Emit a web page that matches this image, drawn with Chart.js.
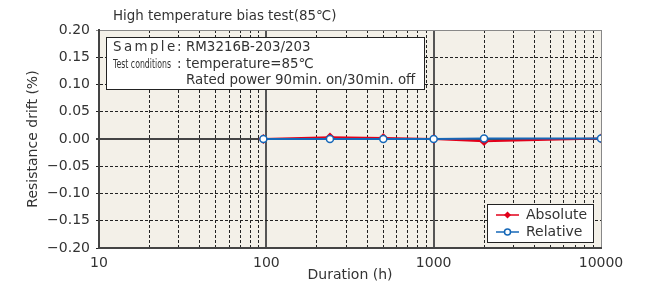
<!DOCTYPE html>
<html>
<head>
<meta charset="utf-8">
<script src="https://cdn.jsdelivr.net/npm/chart.js@4"></script>
<style>
html, body { margin: 0; background: #fff; }
#wrap { width: 649px; height: 283px; }
</style>
</head>
<body>
<div id="wrap"><canvas id="c"></canvas></div>
<script>
const hours = [96, 240, 500, 1000, 2000, 10000];
const absolute = [0.000, 0.003, 0.002, 0.000, -0.004, 0.001];
const relative = [0.000, 0.000, 0.000, 0.000, 0.001, 0.001];
const xTicks = [10, 20, 30, 40, 50, 60, 70, 80, 90, 100, 200, 300, 400, 500, 600, 700, 800, 900,
  1000, 2000, 3000, 4000, 5000, 6000, 7000, 8000, 9000, 10000];
const xLabels = [10, 100, 1000, 10000];
const yTicks = [-0.20, -0.15, -0.10, -0.05, 0.00, 0.05, 0.10, 0.15, 0.20];
const titleText = 'High temperature bias test(85℃)';
const sampleText = 'RM3216B-203/203';
const conditions = ['temperature=85℃', 'Rated power 90min. on/30min. off'];

const FONT = '"DejaVu Sans", "Noto Sans CJK JP", sans-serif';
const TXT = '#333';

const decor = {
  id: 'decor',
  beforeDraw(chart) {
    const { ctx, chartArea: a } = chart;
    ctx.save();
    ctx.fillStyle = '#f3f0e8';
    ctx.fillRect(a.left, a.top, a.right - a.left, a.bottom - a.top);
    ctx.restore();
  },
  afterDraw(chart) {
    const { ctx } = chart;
    ctx.save();
    // title
    ctx.fillStyle = TXT;
    ctx.font = '13.4px ' + FONT;
    ctx.textBaseline = 'middle';
    ctx.fillText(titleText, 113, 17);

    // sample box
    ctx.fillStyle = '#fff';
    ctx.fillRect(106.5, 37.5, 318, 52);
    ctx.strokeStyle = '#222';
    ctx.lineWidth = 1;
    ctx.strokeRect(106.5, 37.5, 318, 52);
    ctx.fillStyle = TXT;
    ctx.font = '13.4px ' + FONT;
    let x = 113;
    for (const ch of 'Sample') { ctx.fillText(ch, x, 48); x += ctx.measureText(ch).width + 2.4; }
    ctx.fillText(':', 177, 48);
    ctx.fillText(sampleText, 186, 48);
    ctx.save();
    ctx.font = '13px ' + FONT;
    const tw = ctx.measureText('Test conditions').width;
    ctx.translate(113, 65);
    ctx.scale(58 / tw, 1);
    ctx.fillText('Test conditions', 0, 0);
    ctx.restore();
    ctx.font = '13.4px ' + FONT;
    ctx.fillText(':', 177, 65);
    ctx.fillText(conditions[0], 186, 65);
    ctx.fillText(conditions[1], 186, 81);

    // legend
    ctx.fillStyle = '#fff';
    ctx.fillRect(487.5, 204.5, 106, 38);
    ctx.strokeStyle = '#222';
    ctx.strokeRect(487.5, 204.5, 106, 38);
    chart.data.datasets.forEach((ds, i) => {
      const y = 215 + i * 17;
      ctx.strokeStyle = ds.borderColor;
      ctx.lineWidth = 1.5;
      ctx.beginPath(); ctx.moveTo(496, y); ctx.lineTo(519, y); ctx.stroke();
      if (i === 0) {
        ctx.fillStyle = ds.pointBackgroundColor;
        ctx.beginPath();
        ctx.moveTo(507.5, y - 3.5); ctx.lineTo(511, y); ctx.lineTo(507.5, y + 3.5); ctx.lineTo(504, y);
        ctx.closePath(); ctx.fill();
      } else {
        ctx.fillStyle = '#fff';
        ctx.beginPath(); ctx.arc(507.5, y, 3, 0, Math.PI * 2); ctx.fill(); ctx.stroke();
      }
      ctx.fillStyle = TXT;
      ctx.font = '14px ' + FONT;
      ctx.fillText(ds.label, 526, y);
    });
    ctx.restore();
  }
};

new Chart(document.getElementById('c'), {
  type: 'line',
  data: {
    datasets: [
      {
        label: 'Absolute',
        data: hours.map((h, i) => ({ x: h, y: absolute[i] })),
        borderColor: '#e2001a',
        backgroundColor: '#e2001a',
        pointBackgroundColor: '#e2001a',
        pointBorderColor: '#e2001a',
        pointStyle: 'rectRot',
        pointRadius: 3.5,
        borderWidth: 2,
        tension: 0,
        order: 1
      },
      {
        label: 'Relative',
        data: hours.map((h, i) => ({ x: h, y: relative[i] })),
        borderColor: '#1668b8',
        backgroundColor: '#1668b8',
        pointBackgroundColor: '#ffffff',
        pointBorderColor: '#1668b8',
        pointStyle: 'circle',
        pointRadius: 3.5,
        pointBorderWidth: 1.5,
        borderWidth: 2,
        tension: 0,
        order: 0
      }
    ]
  },
  options: {
    responsive: true,
    maintainAspectRatio: false,
    animation: false,
    layout: { padding: { top: 30, right: 48, left: 25, bottom: 0 } },
    plugins: { legend: { display: false }, tooltip: { enabled: false } },
    scales: {
      x: {
        type: 'logarithmic',
        min: 10,
        max: 10000,
        afterBuildTicks: s => { s.ticks = xTicks.map(v => ({ value: v })); },
        afterFit: s => { s.height = 35; },
        ticks: {
          autoSkip: false,
          maxRotation: 0,
          color: TXT,
          font: { family: FONT, size: 14 },
          padding: 7,
          callback: v => xLabels.includes(v) ? String(v) : ''
        },
        grid: {
          drawTicks: false,
          color: c => {
            const v = c.tick && c.tick.value;
            if (v === 100 || v === 1000) return '#555';
            if (v === 10000) return '#888';
            return '#222';
          },
          lineWidth: c => {
            const v = c.tick && c.tick.value;
            return (v === 100 || v === 1000) ? 2 : 1;
          }
        },
        border: {
          display: true,
          color: '#444',
          width: 2,
          dash: c => {
            const v = c.tick && c.tick.value;
            if (!c.tick || xLabels.includes(v)) return [];
            return [3, 2];
          }
        },
        title: {
          display: true,
          text: 'Duration (h)',
          color: TXT,
          font: { family: FONT, size: 14 },
          padding: { top: 0, bottom: -1 }
        }
      },
      y: {
        min: -0.2,
        max: 0.2,
        afterBuildTicks: s => { s.ticks = yTicks.map(v => ({ value: v })); },
        afterFit: s => { s.width = 74; },
        ticks: {
          color: TXT,
          font: { family: FONT, size: 14 },
          padding: 6,
          callback: v => (v < -1e-9 ? '−' : '') + Math.abs(v).toFixed(2)
        },
        grid: {
          drawTicks: true,
          tickLength: 3,
          color: c => {
            const v = c.tick && c.tick.value;
            if (v !== undefined && Math.abs(v) < 1e-9) return '#444';
            if (v !== undefined && Math.abs(v - 0.2) < 1e-9) return '#888';
            return '#222';
          },
          lineWidth: c => {
            const v = c.tick && c.tick.value;
            return (v !== undefined && Math.abs(v) < 1e-9) ? 2 : 1;
          }
        },
        border: {
          display: true,
          color: '#444',
          width: 2,
          dash: c => {
            const v = c.tick && c.tick.value;
            if (!c.tick || Math.abs(v) < 1e-9 || Math.abs(Math.abs(v) - 0.2) < 1e-9) return [];
            return [3, 2];
          }
        },
        title: {
          display: true,
          text: 'Resistance drift (%)',
          color: TXT,
          font: { family: FONT, size: 14 },
          padding: 0
        }
      }
    }
  },
  plugins: [decor]
});
</script>
</body>
</html>
